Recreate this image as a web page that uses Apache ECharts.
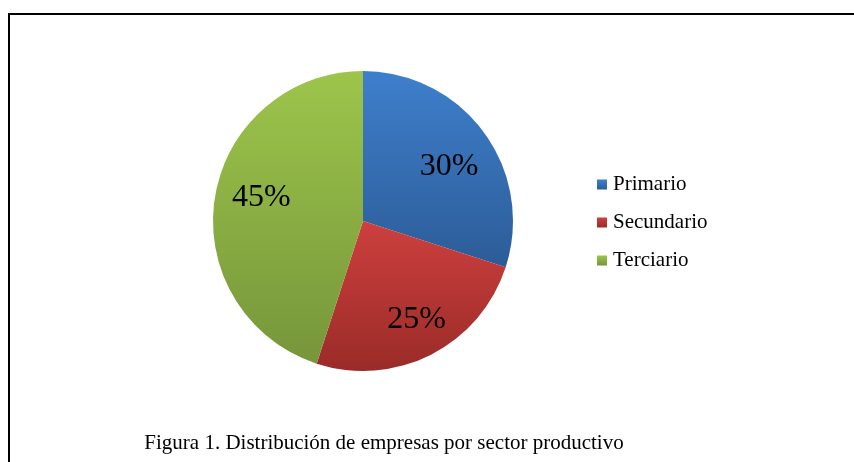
<!DOCTYPE html>
<html>
<head>
<meta charset="utf-8">
<script src="https://cdn.jsdelivr.net/npm/echarts@6/dist/echarts.min.js"></script>
<style>
html, body { margin: 0; padding: 0; background: #fff; }
#chart { width: 854px; height: 462px; }
</style>
</head>
<body>
<div id="chart"></div>
<script>
var categories = ['Primario', 'Secundario', 'Terciario'];
var values = [30, 25, 45];
var labels = ['30%', '25%', '45%'];
var titleText = 'Figura 1. Distribución de empresas por sector productivo';

// colores con degradado vertical, claro arriba y oscuro abajo
var colorsTop = ['#3e7fcc', '#cd403e', '#9dc54b'];
var colorsBottom = ['#2c5c97', '#9a2b28', '#76963a'];

function grad(i) {
    return new echarts.graphic.LinearGradient(0, 0, 0, 1, [
        {offset: 0, color: colorsTop[i]},
        {offset: 1, color: colorsBottom[i]}
    ]);
}

var chart = echarts.init(document.getElementById('chart'));

// ajuste fino de las etiquetas (Excel no las pone justo en el ángulo medio)
var labelShift = [[-2, 10], [4, 1], [6, -6]];

var pieData = categories.map(function (name, i) {
    return {name: name, value: values[i], itemStyle: {color: grad(i)}};
});
// serie transparente encima, sólo para colocar las etiquetas más afuera
var labelData = categories.map(function (name, i) {
    return {name: name, value: values[i], label: {formatter: labels[i], offset: labelShift[i]}};
});

var options = {
    animation: false,
    title: {
        text: titleText,
        left: 384,
        textAlign: 'center',
        top: 433,
        padding: 0,
        textStyle: {
            fontFamily: 'Liberation Serif',
            fontWeight: 'normal',
            fontSize: 21,
            color: '#000'
        }
    },
    legend: {
        orient: 'vertical',
        left: 597,
        top: 174,
        padding: 0,
        itemWidth: 10,
        itemHeight: 10,
        itemGap: 17,
        icon: 'rect',
        data: categories,
        textStyle: {
            fontFamily: 'Liberation Serif',
            fontSize: 21,
            color: '#000',
            padding: [0, 0, 0, 1]
        }
    },
    graphic: [{
        type: 'rect',
        shape: {x: 9, y: 14, width: 900, height: 500},
        style: {fill: 'none', stroke: '#000', lineWidth: 2},
        silent: true
    }],
    series: [{
        type: 'pie',
        center: [363, 221],
        radius: 150,
        startAngle: 90,
        clockwise: true,
        label: {show: false},
        labelLine: {show: false},
        emphasis: {disabled: true},
        data: pieData
    }, {
        type: 'pie',
        center: [363, 221],
        radius: [62, 150],
        startAngle: 90,
        clockwise: true,
        silent: true,
        legendHoverLink: false,
        itemStyle: {color: 'rgba(0,0,0,0)'},
        label: {
            show: true,
            position: 'inside',
            fontFamily: 'Liberation Serif',
            fontSize: 32,
            color: '#000'
        },
        labelLine: {show: false},
        emphasis: {disabled: true},
        data: labelData
    }]
};

chart.setOption(options);
</script>
</body>
</html>
